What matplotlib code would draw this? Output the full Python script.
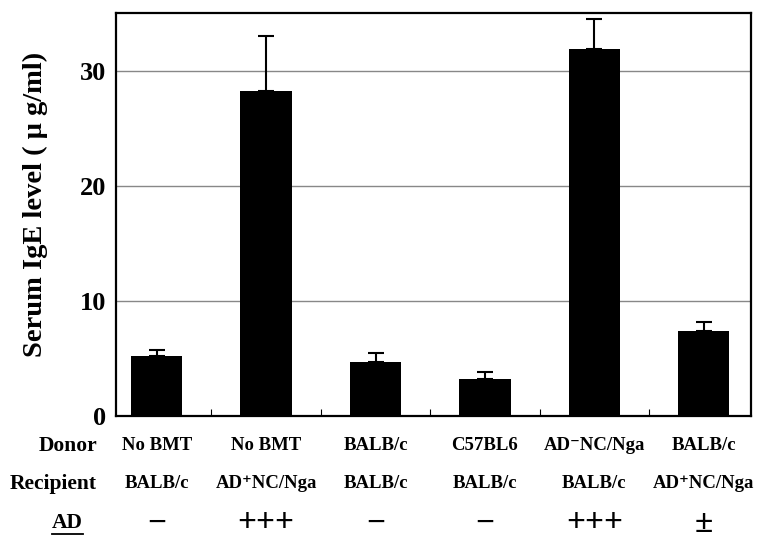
import matplotlib
matplotlib.use("Agg")
import matplotlib.pyplot as plt
import matplotlib.transforms as mtransforms
import numpy as np

# values
donors = ["No BMT", "No BMT", "BALB/c", "C57BL6", "AD\u207bNC/Nga", "BALB/c"]
recipients = ["BALB/c", "AD\u207aNC/Nga", "BALB/c", "BALB/c", "BALB/c", "AD\u207aNC/Nga"]
ad_scores = ["\u2212", "+++", "\u2212", "\u2212", "+++", "\u00b1"]
ige_mean = [5.2, 28.2, 4.7, 3.2, 31.9, 7.4]
ige_err = [0.5, 4.8, 0.8, 0.6, 2.6, 0.8]
yticks = [0, 10, 20, 30]

serif = ["Liberation Serif", "DejaVu Serif"]
plt.rcParams["font.family"] = serif
plt.rcParams["font.weight"] = "bold"

fig = plt.figure(figsize=(7.63, 5.38), dpi=100)
ax = fig.add_axes([0.152, 0.2268, 0.832, 0.749])

x = np.arange(len(ige_mean))
ax.bar(x, ige_mean, width=0.47, color="black", zorder=3)
ax.errorbar(x, ige_mean, yerr=[np.zeros(len(ige_err)), ige_err], fmt="none",
            ecolor="black", elinewidth=1.5, capsize=5.5, capthick=1.5, zorder=4)

ax.set_xlim(-0.373, 5.431)
ax.set_ylim(0, 35)
ax.set_yticks(yticks)
ax.set_yticklabels([str(t) for t in yticks], fontsize=19, fontweight="bold")
ax.tick_params(axis="y", length=0, pad=7)
ax.set_xticks(x[:-1] + 0.5)
ax.set_xticklabels([])
ax.tick_params(axis="x", direction="in", length=5, width=0.8)
ax.grid(axis="y", color="#888888", linewidth=1, zorder=1)
for s in ax.spines.values():
    s.set_linewidth(1.6)

ax.set_ylabel("Serum IgE level ( \u03bc g/ml)", fontsize=20.5, fontweight="bold")
ax.yaxis.set_label_coords(-0.107, 0.526)

trans = mtransforms.blended_transform_factory(ax.transData, fig.transFigure)
row_y = [1 - 446 / 538, 1 - 484 / 538, 1 - 523 / 538]
fig.text(97 / 763, row_y[0], "Donor", ha="right", va="center", fontsize=15.5, fontweight="bold")
fig.text(97 / 763, row_y[1], "Recipient", ha="right", va="center", fontsize=15.5, fontweight="bold")
fig.text(67 / 763, row_y[2], "AD", ha="center", va="center", fontsize=15.5, fontweight="bold")
fig.add_artist(plt.Line2D([52 / 763, 83 / 763], [1 - 534 / 538] * 2, color="black", lw=1.3))

for i in range(len(x)):
    ax.text(x[i], row_y[0], donors[i], transform=trans, ha="center", va="center",
            fontsize=13.5, fontweight="bold")
    ax.text(x[i], row_y[1], recipients[i], transform=trans, ha="center", va="center",
            fontsize=13.5, fontweight="bold")
    ax.text(x[i], 1 - 523 / 538, ad_scores[i], transform=trans, ha="center", va="center",
            fontsize=24, fontweight="bold")

fig.savefig("out.png", dpi=100)
